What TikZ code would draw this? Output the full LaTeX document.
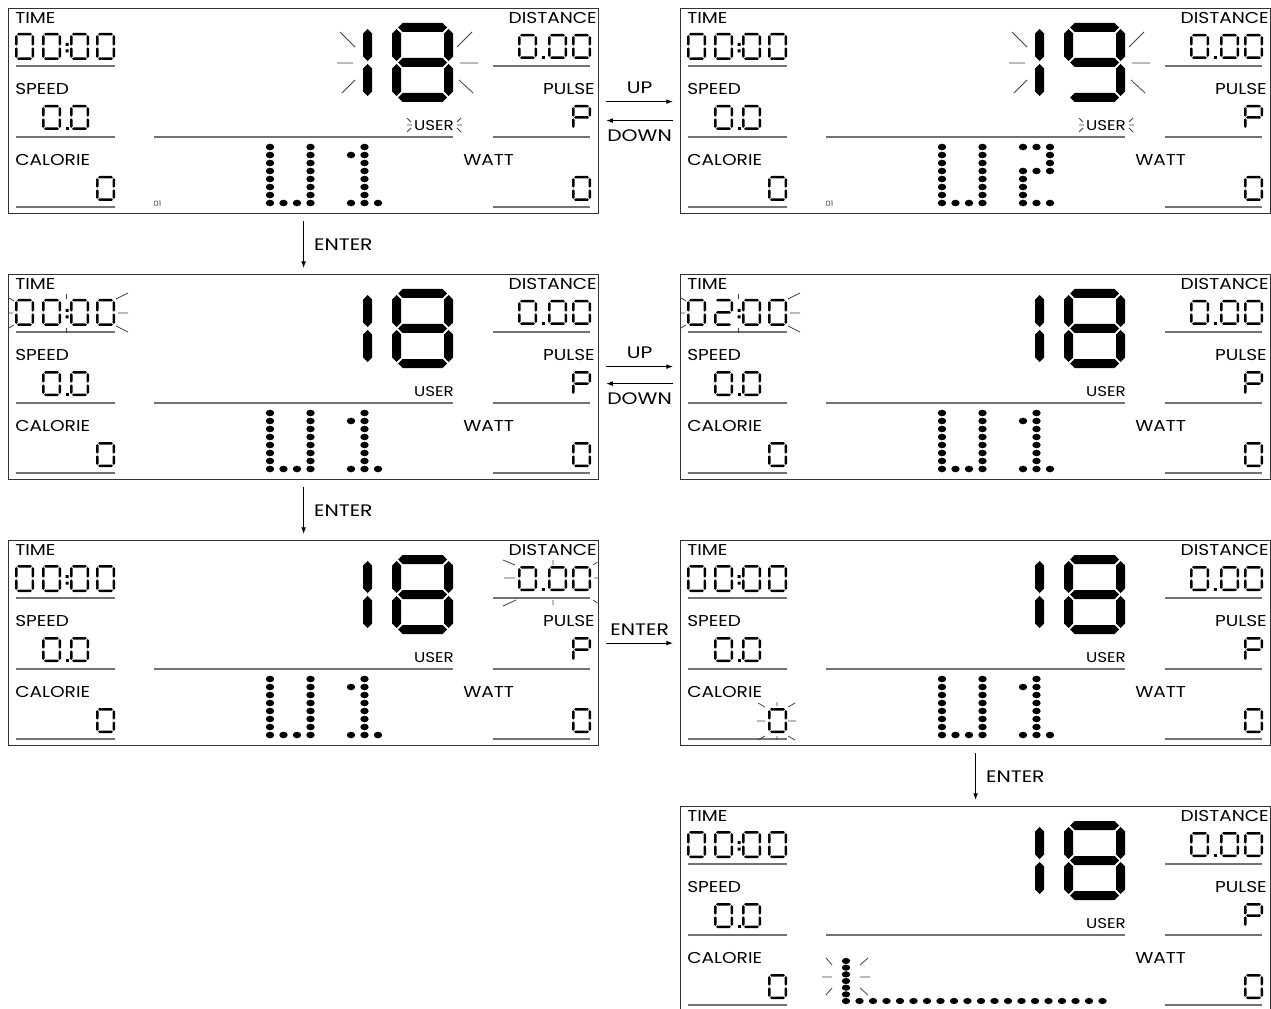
\documentclass[tikz,border=0pt]{standalone}
\usepackage{fontspec}
\newfontfamily\lcd[FakeStretch=1.18]{Poppins}
\newfontfamily\lcdw[FakeStretch=1.22]{Poppins}
\usetikzlibrary{arrows.meta,calc}
\tikzset{
  panel/.style={draw=black!80, line width=0.9pt, minimum width=442.5pt, minimum height=153.75pt, inner sep=0pt, anchor=north west},
  uline/.style={draw=black!55, line width=1pt},
  spk/.style={draw=black!75, line width=0.6pt},
  lbl/.style={font=\lcd\fontsize{11.8}{13}\selectfont, inner sep=0pt},
  userlbl/.style={font=\lcd\fontsize{10.6}{12}\selectfont, inner sep=0pt},
  tinylbl/.style={font=\lcd\fontsize{5.5}{6}\selectfont, text=black!70, inner sep=0pt, anchor=west},
  arr/.style={line width=0.7pt, -{Latex[length=5pt,width=3.6pt]}},
  alb/.style={font=\lcdw\fontsize{12.5}{14}\selectfont, inner sep=0pt},
}
% hexagonal segments (px units, y downwards)
\newcommand\lcdh[3]{\fill ({#1},{#3}) -- ({#1+\lsw/2},{#3-\lsw/2}) -- ({#2-\lsw/2},{#3-\lsw/2}) -- ({#2},{#3}) -- ({#2-\lsw/2},{#3+\lsw/2}) -- ({#1+\lsw/2},{#3+\lsw/2}) -- cycle;}
\newcommand\lcdv[3]{\fill ({#1},{#2}) -- ({#1+\lsw/2},{#2+\lsw/2}) -- ({#1+\lsw/2},{#3-\lsw/2}) -- ({#1},{#3}) -- ({#1-\lsw/2},{#3-\lsw/2}) -- ({#1-\lsw/2},{#2+\lsw/2}) -- cycle;}
\def\dsega{\lcdh{\dXa+\dGp}{\dXb-\dGp}{\dYa}}
\def\dsegb{\lcdv{\dXb}{\dYa+\dGp}{\dYm-\dGp}}
\def\dsegc{\lcdv{\dXb}{\dYm+\dGp}{\dYb-\dGp}}
\def\dsegd{\lcdh{\dXa+\dGp}{\dXb-\dGp}{\dYb}}
\def\dsege{\lcdv{\dXa}{\dYm+\dGp}{\dYb-\dGp}}
\def\dsegf{\lcdv{\dXa}{\dYa+\dGp}{\dYm-\dGp}}
\def\dsegg{\lcdh{\dXa+\dGp}{\dXb-\dGp}{\dYm}}
\newcommand\lcddig[6]{\begingroup
  \pgfmathsetmacro\lsw{#5}%
  \pgfmathsetmacro\dXa{#1+#5/2}\pgfmathsetmacro\dXb{#1+#3-#5/2}%
  \pgfmathsetmacro\dYa{#2+#5/2}\pgfmathsetmacro\dYb{#2+#4-#5/2}%
  \pgfmathsetmacro\dYm{#2+#4/2}%
  \pgfmathsetmacro\dGp{0.6+#5*0.1}%
  \foreach \s in {#6}{\csname dseg\s\endcsname}%
  \endgroup}
\newcommand\dotat[2]{\fill ({262+13.5*(#1)},{139+8*(#2)}) ellipse [x radius=4.2, y radius=3.3];}
\newcommand\wone{\foreach \r in {0,...,7}{\dotat{0}{\r}\dotat{3}{\r}\dotat{7}{\r}}
  \dotat{1}{7}\dotat{2}{7}\dotat{6}{1}\dotat{6}{7}\dotat{8}{7}}
\newcommand\wtwo{\foreach \r in {0,...,7}{\dotat{0}{\r}\dotat{3}{\r}}
  \dotat{1}{7}\dotat{2}{7}
  \foreach \c/\r in {6/0,7/0,8/0,8/1,8/2,6/3,7/3,8/3,6/4,6/5,6/6,6/7,7/7,8/7}{\dotat{\c}{\r}}}
\newcommand\lcdcommon[2]{%
  \node[lbl,anchor=west] (time) at (7,10) {TIME};
  \node[lbl,anchor=west] (speed) at (7,81) {SPEED};
  \node[lbl,anchor=west] (cal) at (7,152) {CALORIE};
  \node[lbl,anchor=east] (dist) at (589,10) {DISTANCE};
  \node[lbl,anchor=east] (pulse) at (587,81) {PULSE};
  \node[lbl,anchor=west] (watt) at (455,152) {WATT};
  \node[userlbl] (user) at (426,118) {USER};
  \draw[uline] (8,58) -- (107,58) (8,129) -- (107,129) (8,199) -- (107,199)
    (485,58) -- (582,58) (485,129) -- (582,129) (485,199) -- (582,199)
    (146,129) -- (445,129);
  \lcddig{7}{25}{19}{27}{2.5}{a,b,c,d,e,f}
  \lcddig{34}{25}{19}{27}{2.5}{#1}
  \fill (57.5,35) rectangle (60.5,38) (57.5,41.5) rectangle (60.5,44.5);
  \lcddig{62}{25}{19}{27}{2.5}{a,b,c,d,e,f}
  \lcddig{88}{25}{19}{27}{2.5}{a,b,c,d,e,f}
  \lcddig{34}{97}{19}{25}{2.5}{a,b,c,d,e,f}
  \fill (57.5,119) rectangle (60.5,122);
  \lcddig{62}{97}{19}{25}{2.5}{a,b,c,d,e,f}
  \lcddig{88}{168}{19}{25}{2.5}{a,b,c,d,e,f}
  \lcddig{510}{26}{19}{25}{2.5}{a,b,c,d,e,f}
  \fill (533.5,48) rectangle (536.5,51);
  \lcddig{540}{26}{19}{25}{2.5}{a,b,c,d,e,f}
  \lcddig{564}{26}{19}{25}{2.5}{a,b,c,d,e,f}
  \lcddig{564}{97}{19}{25}{2.5}{a,b,e,f,g}
  \lcddig{564}{168}{19}{25}{2.5}{a,b,c,d,e,f}
  \lcddig{300}{15}{64}{79}{9}{b,c}
  \lcddig{384}{15}{61}{79}{9}{#2}
}
\newcommand\bigspark{\draw[spk] (332,24)--(347,39) (329,55)--(345,55) (334,85)--(347,72) (449,39)--(464,24) (452,55)--(470,55) (451,72)--(465,85);}
\newcommand\userspark{\draw[spk] (399,110)--(403,114) (399,117)--(404,117) (399,124)--(403,120) (449,114)--(453,110) (449,117)--(454,117) (449,120)--(453,124);}
\newcommand\timespark{\draw[spk] (6,27)--(1,24) (1,39)--(5,39) (6,51)--(1,54) (58.5,20)--(58.5,25) (58.5,54)--(58.5,59) (108,25)--(120,19) (110,39)--(120,39) (108,52)--(120,58);}
\newcommand\distspark{\draw[spk] (495,20)--(507,25) (496,38)--(507,38) (495,66)--(508,60) (545,20)--(545,25) (545,60)--(545,65) (585,25)--(589.5,22) (586,38)--(589.5,38) (585,60)--(589.5,63);}
\newcommand\calspark{\draw[spk] (78,163)--(85,167) (97,162)--(97,166) (108,167)--(115,163) (77,181)--(85,181) (108,181)--(116,181) (78,200)--(85,196) (97,196)--(97,200) (108,196)--(115,200);}
\newcommand\barspark{\draw[spk] (146,152)--(152,159) (180,159)--(188,152) (142,171)--(152,171) (180,171)--(190,171) (146,189)--(152,182) (180,182)--(188,189);}
\newcommand\bargraph{\foreach \k in {0,...,6}{\fill (166,{155+6.67*\k}) ellipse [x radius=4.2, y radius=3.1];}
  \foreach \i in {1,...,19}{\fill ({166+13.5*\i},195) ellipse [x radius=4.2, y radius=3.1];}}
\begin{document}
\begin{tikzpicture}[x=0.75pt,y=-0.75pt]
\useasboundingbox (0,0) rectangle (1271,1009);
\node[panel] (p1) at (8,8) {};
\node[panel] (p2) at (680,8) {};
\node[panel] (p3) at (8,274) {};
\node[panel] (p4) at (680,274) {};
\node[panel] (p5) at (8,540) {};
\node[panel] (p6) at (680,540) {};
\node[panel] (p7) at (680,806) {};

\begin{scope}[shift={(p1.north west)}, name prefix=p1-]
  \lcdcommon{a,b,c,d,e,f}{a,b,c,d,e,f,g}
  \bigspark \userspark
  \node[tinylbl] (n01) at (145,196) {01};
  \wone
\end{scope}
\begin{scope}[shift={(p2.north west)}, name prefix=p2-]
  \lcdcommon{a,b,c,d,e,f}{a,b,c,d,f,g}
  \bigspark \userspark
  \node[tinylbl] (n01) at (145,196) {01};
  \wtwo
\end{scope}
\begin{scope}[shift={(p3.north west)}, name prefix=p3-]
  \lcdcommon{a,b,c,d,e,f}{a,b,c,d,e,f,g}
  \timespark
  \wone
\end{scope}
\begin{scope}[shift={(p4.north west)}, name prefix=p4-]
  \lcdcommon{a,b,g,e,d}{a,b,c,d,e,f,g}
  \timespark
  \wone
\end{scope}
\begin{scope}[shift={(p5.north west)}, name prefix=p5-]
  \lcdcommon{a,b,c,d,e,f}{a,b,c,d,e,f,g}
  \distspark
  \wone
\end{scope}
\begin{scope}[shift={(p6.north west)}, name prefix=p6-]
  \lcdcommon{a,b,c,d,e,f}{a,b,c,d,e,f,g}
  \calspark
  \wone
\end{scope}
\begin{scope}[shift={(p7.north west)}, name prefix=p7-]
  \lcdcommon{a,b,c,d,e,f}{a,b,c,d,e,f,g}
  \barspark
  \bargraph
\end{scope}

% connectors
\draw[arr] ($(p1.east)+(7,-9.5)$) -- ($(p2.west)+(-7,-9.5)$) node[alb, midway, above=5.5pt] (up1) {UP};
\draw[arr] ($(p2.west)+(-7,9.5)$) -- ($(p1.east)+(7,9.5)$) node[alb, midway, below=6.5pt] (down1) {DOWN};
\draw[arr] ($(p3.east)+(7,-10.5)$) -- ($(p4.west)+(-7,-10.5)$) node[alb, midway, above=5.5pt] (up2) {UP};
\draw[arr] ($(p4.west)+(-7,6.5)$) -- ($(p3.east)+(7,6.5)$) node[alb, midway, below=6.5pt] (down2) {DOWN};
\draw[arr] ($(p5.east)+(7,0)$) -- ($(p6.west)+(-7,0)$) node[alb, midway, above=5.5pt] (ent3) {ENTER};
\draw[arr] ($(p1.south)+(0,7)$) -- ($(p3.north)+(0,-6)$) node[alb, midway, right=7.5pt] (ent1) {ENTER};
\draw[arr] ($(p3.south)+(0,7)$) -- ($(p5.north)+(0,-6)$) node[alb, midway, right=7.5pt] (ent2) {ENTER};
\draw[arr] ($(p6.south)+(0,7)$) -- ($(p7.north)+(0,-6)$) node[alb, midway, right=7.5pt] (ent4) {ENTER};
\end{tikzpicture}
\end{document}
